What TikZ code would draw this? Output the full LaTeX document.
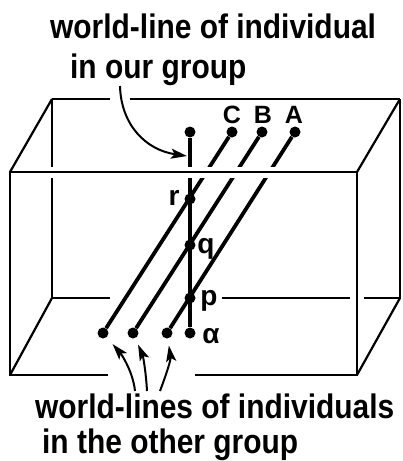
\documentclass[tikz,border=0pt]{standalone}
\usepackage{fontspec}
\setmainfont{Liberation Sans}
\usetikzlibrary{arrows.meta}
\definecolor{WorldInk}{HTML}{000000}

\begin{document}
\begin{tikzpicture}[x=1pt,y=-1pt,
    edge/.style={WorldInk, line width=2.2pt},
    wline/.style={WorldInk, line width=3.8pt},
    dot/.style={circle, fill=WorldInk, inner sep=0pt, minimum size=11pt},
    pointer/.style={WorldInk, line width=2pt, -{Stealth[length=16pt,width=10pt,inset=3.5pt]}},
    caption/.style={anchor=base west, inner sep=0pt, xscale=0.88, text=WorldInk, font=\bfseries\fontsize{34pt}{36pt}\selectfont},
    tag/.style={anchor=base, inner sep=0pt, text=WorldInk, font=\bfseries\fontsize{28pt}{30pt}\selectfont}]
  \useasboundingbox (0,0) rectangle (403,461);
  % corners of the box
  \coordinate (BTL) at (52,99);
  \coordinate (BTR) at (400,99);
  \coordinate (BBL) at (52,298);
  \coordinate (BBR) at (400,298);
  \coordinate (FTL) at (10,172);
  \coordinate (FTR) at (357,172);
  \coordinate (FBL) at (10,375);
  \coordinate (FBR) at (357,375);
  % back face
  \draw[edge] (BTL) -- (110,99) (130,99) -- (BTR);
  \draw[edge] (110,298) -- (BBL) -- (BTL);
  \draw[edge] (222,298) -- (350,298) (364,298) -- (BBR) -- (BTR);
  % world-lines
  \node[dot] (ourtop) at (190,132) {};
  \node[dot] (r) at (190,199) {};
  \node[dot] (q) at (190,245) {};
  \node[dot] (p) at (190,298) {};
  \node[dot] (alpha) at (190,333) {};
  \foreach \n/\xt/\xb in {C/232/103, B/262/133, A/295/167} {
    \node[dot] (\n top) at (\xt,132) {};
    \node[dot] (\n bot) at (\xb,333) {};
    \draw[wline] (\n top) -- (\n bot);
  }
  \draw[wline] (ourtop) -- (alpha);
  % front face, cutting the lines behind it
  \draw[white, line width=11pt] (30,172) -- (340,172);
  \draw[edge] (108,375) -- (FBL) -- (FTL) -- (FTR) -- (FBR) -- (195,375);
  \draw[edge] (BTL) -- (FTL) (BTR) -- (FTR) (BBL) -- (FBL) (BBR) -- (FBR);
  % labels
  \node[tag, font=\bfseries\fontsize{25pt}{27pt}\selectfont] (labC) at (232,123) {C};
  \node[tag, font=\bfseries\fontsize{25pt}{27pt}\selectfont] (labB) at (263,123) {B};
  \node[tag, font=\bfseries\fontsize{25pt}{27pt}\selectfont] (labA) at (294,123) {A};
  \node[tag] (labr) at (174,205) {r};
  \node[tag] (labq) at (206,253) {q};
  \node[tag] (labp) at (209,305) {p};
  \node[tag] (labalpha) at (211,343) {α};
  \node[caption] (topA) at (50,38) {world-line of individual};
  \node[caption] (topB) at (70,78) {in our group};
  \node[caption] (botA) at (35,418) {world-lines of individuals};
  \node[caption] (botB) at (42,453) {in the other group};
  % arrows
  \coordinate (ourtail) at (120,86);
  \coordinate (ourtip) at (187,156);
  \draw[pointer] (ourtail) .. controls (121,125) and (146,150) .. (ourtip);
  \coordinate (tailC) at (135,391);
  \coordinate (tailB) at (147,391);
  \coordinate (tailA) at (160,391);
  \draw[pointer, shorten >=9pt] (tailC) .. controls (133,372) and (122,355) .. (Cbot);
  \draw[pointer, shorten >=7pt] (tailB) .. controls (146,372) and (143,356) .. (Bbot);
  \draw[pointer, shorten >=7pt] (tailA) .. controls (166,375) and (171,360) .. (Abot);
\end{tikzpicture}
\end{document}
